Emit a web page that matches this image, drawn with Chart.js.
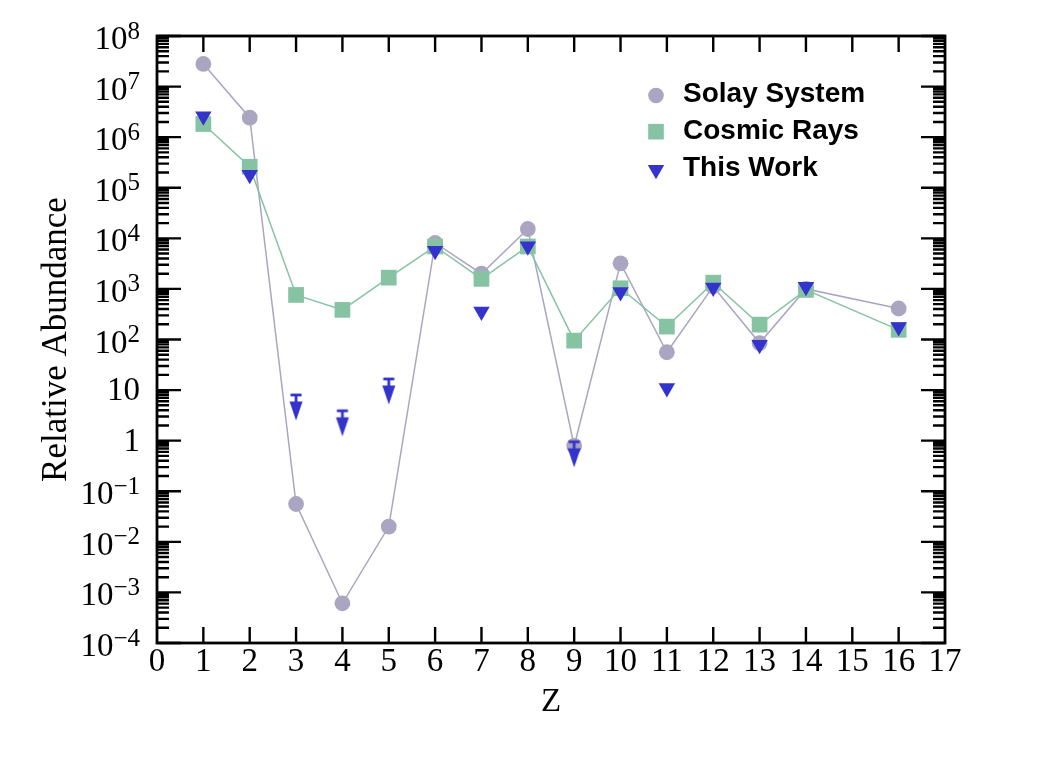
<!DOCTYPE html>
<html><head><meta charset="utf-8">
<script src="https://cdn.jsdelivr.net/npm/chart.js@4.4.1/dist/chart.umd.min.js"></script>
<style>html,body{margin:0;padding:0;background:#fff;}#wrap{width:1050px;height:757px;position:relative;}</style>
</head><body><div id="wrap"><canvas id="c" width="1050" height="757"></canvas></div>
<script>
// ---- data ----
const Z = [1, 2, 3, 4, 5, 6, 7, 8, 9, 10, 11, 12, 13, 14, 16];
const solarSystem = [2.8e7, 2.43e6, 0.056, 6.1e-4, 0.020, 8.1e3, 2.0e3, 1.53e4, 0.79, 3.2e3, 56, 1.12e3, 85, 1.0e3, 410];
const cosmicRays = [1.82e6, 2.6e5, 760, 385, 1.67e3, 6.9e3, 1.58e3, 6.9e3, 95, 1.03e3, 180, 1.33e3, 197, 955, 155];
const thisWork = [2.6e6, 1.8e5, 8.0, 3.9, 16.6, 5.7e3, 357, 6.95e3, 0.95, 870, 11, 1.07e3, 79, 1.1e3, 177];
const thisWorkUpperLimit = [false, false, true, true, true, false, false, false, true, false, false, false, false, false, false];
const seriesNames = ['Solay System', 'Cosmic Rays', 'This Work'];
const xTickValues = [0, 1, 2, 3, 4, 5, 6, 7, 8, 9, 10, 11, 12, 13, 14, 15, 16, 17];
const yTickExponents = [8, 7, 6, 5, 4, 3, 2, 1, 0, -1, -2, -3, -4];
const xTitle = 'Z';
const yTitle = 'Relative Abundance';

const COL_SOLAR = '#aaa6c1';
const COL_COSMIC = '#86c3a3';
const COL_WORK = '#3434cc';

function makeArrow(color) {
  const c = document.createElement('canvas');
  c.width = 16; c.height = 54;
  const g = c.getContext('2d');
  g.fillStyle = color;
  g.fillRect(2.5, 25.6, 11, 2.8);
  g.fillRect(6.6, 27, 2.8, 12);
  g.beginPath(); g.moveTo(1.5, 33.5); g.lineTo(14.5, 33.5); g.lineTo(8, 52.5); g.closePath(); g.fill();
  return c;
}
const arrowImg = makeArrow(COL_WORK);

const pts = (ys) => Z.map((z, i) => ({x: z, y: ys[i]}));

const frameAndTicks = {
  id: 'frameAndTicks',
  afterDraw(chart) {
    const {ctx, chartArea: a, scales: {x, y}} = chart;
    ctx.save();
    ctx.strokeStyle = '#000';
    ctx.lineWidth = 2.4;
    ctx.beginPath();
    xTickValues.forEach(v => {
      if (v === xTickValues[0] || v === xTickValues[xTickValues.length - 1]) return;
      const px = x.getPixelForValue(v);
      ctx.moveTo(px, a.bottom); ctx.lineTo(px, a.bottom - 16);
      ctx.moveTo(px, a.top); ctx.lineTo(px, a.top + 16);
    });
    yTickExponents.forEach(e => {
      const py = y.getPixelForValue(Math.pow(10, e));
      ctx.moveTo(a.left, py); ctx.lineTo(a.left + 24, py);
      ctx.moveTo(a.right, py); ctx.lineTo(a.right - 24, py);
      if (e > yTickExponents[yTickExponents.length - 1]) {
        for (let m = 2; m <= 9; m++) {
          const pm = y.getPixelForValue(m * Math.pow(10, e - 1));
          ctx.moveTo(a.left, pm); ctx.lineTo(a.left + 12, pm);
          ctx.moveTo(a.right, pm); ctx.lineTo(a.right - 12, pm);
        }
      }
    });
    ctx.stroke();
    ctx.lineWidth = 2.8;
    ctx.strokeRect(a.left, a.top, a.right - a.left, a.bottom - a.top);

    // y tick labels with superscripts
    ctx.fillStyle = '#000';
    ctx.textAlign = 'right';
    ctx.textBaseline = 'middle';
    const xr = a.left - 17;
    yTickExponents.forEach(e => {
      const py = y.getPixelForValue(Math.pow(10, e));
      if (e === 0 || e === 1) {
        ctx.font = '33px "Liberation Serif"';
        ctx.fillText(e === 0 ? '1' : '10', xr, py + 1.5);
      } else {
        const es = e < 0 ? '\u2212' + (-e) : String(e);
        ctx.font = '25px "Liberation Serif"';
        const ew = ctx.measureText(es).width;
        ctx.fillText(es, xr, py - 4);
        ctx.font = '33px "Liberation Serif"';
        ctx.fillText('10', xr - ew, py + 4.4);
      }
    });

    // legend
    const lx = 656, rows = [95.5, 131.7, 169.7];
    ctx.fillStyle = COL_SOLAR;
    ctx.beginPath(); ctx.arc(lx, rows[0], 7.8, 0, Math.PI * 2); ctx.fill();
    ctx.fillStyle = COL_COSMIC;
    ctx.fillRect(lx - 7.8, rows[1] - 7.8, 15.6, 15.6);
    ctx.fillStyle = COL_WORK;
    const r = 9.5;
    ctx.beginPath();
    ctx.moveTo(lx - r * 0.866, rows[2] - r / 2);
    ctx.lineTo(lx + r * 0.866, rows[2] - r / 2);
    ctx.lineTo(lx, rows[2] + r);
    ctx.closePath(); ctx.fill();
    ctx.fillStyle = '#000';
    ctx.textAlign = 'left';
    ctx.textBaseline = 'alphabetic';
    ctx.font = 'bold 28px "Liberation Sans"';
    const bases = [101.7, 139.3, 176];
    seriesNames.forEach((n, i) => ctx.fillText(n, 683, bases[i]));
    ctx.restore();
  }
};

new Chart(document.getElementById('c'), {
  type: 'scatter',
  data: {
    datasets: [
      {
        label: seriesNames[0], data: pts(solarSystem), showLine: true,
        borderColor: COL_SOLAR, backgroundColor: COL_SOLAR, borderWidth: 1.5,
        pointStyle: 'circle', pointRadius: 7.9, pointBorderWidth: 0, order: 3
      },
      {
        label: seriesNames[1], data: pts(cosmicRays), showLine: true,
        borderColor: COL_COSMIC, backgroundColor: COL_COSMIC, borderWidth: 1.5,
        pointStyle: 'rect', pointRadius: 11.1, pointBorderWidth: 0, order: 2
      },
      {
        label: seriesNames[2], data: pts(thisWork), showLine: false,
        borderColor: COL_WORK, backgroundColor: COL_WORK,
        pointStyle: thisWorkUpperLimit.map(u => u ? arrowImg : 'triangle'),
        pointRotation: thisWorkUpperLimit.map(u => u ? 0 : 180),
        pointRadius: 9.5, pointBorderWidth: 0, order: 1
      }
    ]
  },
  options: {
    responsive: false,
    animation: false,
    events: [],
    layout: {padding: {left: 0, top: 36, right: 105, bottom: 0}},
    plugins: {legend: {display: false}, tooltip: {enabled: false}},
    scales: {
      x: {
        type: 'linear', min: 0, max: 17,
        afterBuildTicks: (s) => { s.ticks = xTickValues.map(v => ({value: v})); },
        afterFit: (s) => { s.height = 114; },
        grid: {display: false, drawTicks: false},
        border: {display: false},
        ticks: {
          autoSkip: false, maxRotation: 0, padding: 0, color: '#000',
          font: {family: 'Liberation Serif', size: 33, lineHeight: 1.2},
          callback: (v) => String(v)
        },
        title: {display: true, text: xTitle, color: '#000',
          font: {family: 'Liberation Serif', size: 33, lineHeight: 1.2},
          padding: {top: 0, bottom: 35}}
      },
      y: {
        type: 'logarithmic', min: 1e-4, max: 1e8,
        afterFit: (s) => { s.width = 157; },
        grid: {display: false, drawTicks: false},
        border: {display: false},
        ticks: {display: false},
        title: {display: true, text: yTitle, color: '#000',
          font: {family: 'Liberation Serif', size: 35, lineHeight: 1.2},
          padding: {top: 36, bottom: 0}}
      }
    }
  },
  plugins: [frameAndTicks]
});
</script></body></html>
